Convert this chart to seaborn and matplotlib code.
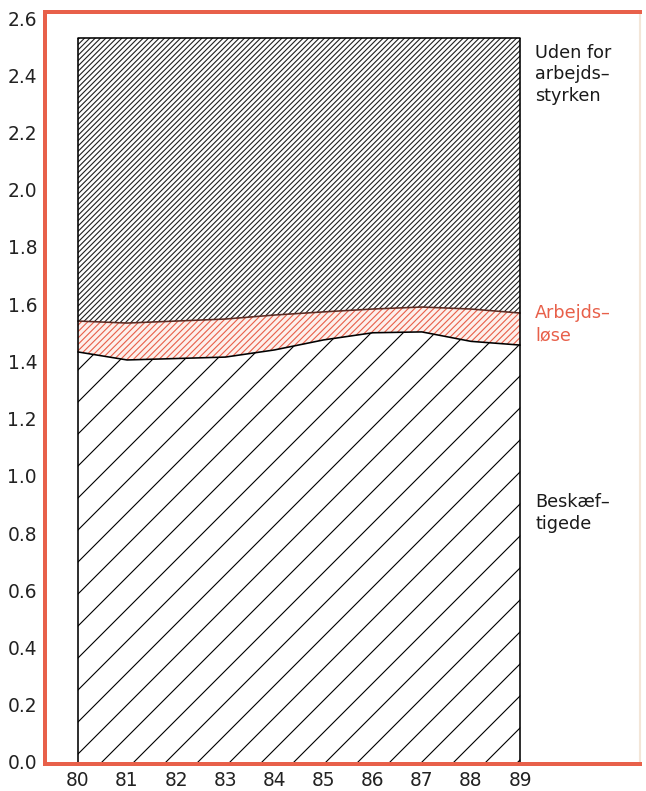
import numpy as np
import pandas as pd
import matplotlib.pyplot as plt
import seaborn as sns

# data (mio. personer)
years = [80, 81, 82, 83, 84, 85, 86, 87, 88, 89]
beskaeftigede = [1.433, 1.405, 1.410, 1.415, 1.440, 1.475, 1.500, 1.503, 1.470, 1.457]
arbejdsloese = [0.108, 0.129, 0.131, 0.133, 0.122, 0.098, 0.083, 0.087, 0.113, 0.112]
uden_for = [0.989, 0.996, 0.989, 0.982, 0.968, 0.957, 0.947, 0.940, 0.947, 0.961]
y_ticks = [0.0, 0.2, 0.4, 0.6, 0.8, 1.0, 1.2, 1.4, 1.6, 1.8, 2.0, 2.2, 2.4, 2.6]

RED = '#e8604a'

df = pd.DataFrame({'year': years, 'besk': beskaeftigede,
                   'ledig': arbejdsloese, 'uden': uden_for})
df['c1'] = df['besk']
df['c2'] = df['c1'] + df['ledig']
df['c3'] = df['c2'] + df['uden']

sns.set_style('white')
plt.rcParams['font.family'] = ['DejaVu Sans']
plt.rcParams['hatch.linewidth'] = 0.42

DPI = 192
fig = plt.figure(figsize=(646 / DPI, 791 / DPI), dpi=DPI)
ax = fig.add_axes([45 / 646, 27 / 791, 595 / 646, 752 / 791])

# stacked areas with hatching
ax.fill_between(df['year'], 0, df['c1'], facecolor='white', edgecolor='black',
                hatch='//', linewidth=0, zorder=1)
ax.fill_between(df['year'], df['c1'], df['c2'], facecolor='#fdf0ec', edgecolor=RED,
                hatch='/' * 10, linewidth=0, zorder=1)
ax.fill_between(df['year'], df['c2'], df['c3'], facecolor='white', edgecolor='#222222',
                hatch='/' * 12, linewidth=0, zorder=1)

# boundaries
sns.lineplot(data=df, x='year', y='c1', color='black', linewidth=0.6, ax=ax, zorder=3)
sns.lineplot(data=df, x='year', y='c2', color='#5a2a22', linewidth=0.6, ax=ax, zorder=3)
sns.lineplot(data=df, x='year', y='c3', color='black', linewidth=0.6, ax=ax, zorder=3)
ax.vlines([df['year'].iloc[0], df['year'].iloc[-1]], 0,
          [df['c3'].iloc[0], df['c3'].iloc[-1]], color='black', linewidth=0.6, zorder=3)

ax.set_xlim(79.33, 91.44)
ax.set_ylim(-0.007, 2.621)
ax.set_xticks(years)
ax.set_xticklabels([str(y) for y in years])
ax.set_yticks(y_ticks)
ax.set_yticklabels([f'{v:.1f}' for v in y_ticks])
ax.tick_params(axis='both', length=0, labelsize=7, colors='#222222')
ax.tick_params(axis='y', pad=3)
ax.tick_params(axis='x', pad=2.5)
ax.set_xlabel('')
ax.set_ylabel('')

for side in ['left', 'top', 'bottom']:
    ax.spines[side].set_color(RED)
    ax.spines[side].set_linewidth(1.5)
    ax.spines[side].set_zorder(5)
ax.spines['right'].set_color('#f3e6d8')
ax.spines['right'].set_linewidth(0.8)

# side labels
xl = years[-1] + 0.31
ax.text(xl, df['c3'].iloc[-1] - 0.02, 'Uden for\narbejds–\nstyrken', fontsize=6.6,
        color='#1a1a1a', va='top', ha='left', linespacing=1.25)
ax.text(xl, df['c2'].iloc[-1] + 0.03, 'Arbejds–\nløse', fontsize=6.6,
        color=RED, va='top', ha='left', linespacing=1.25)
ax.text(xl, 0.94, 'Beskæf–\ntigede', fontsize=6.6,
        color='#1a1a1a', va='top', ha='left', linespacing=1.25)

fig.savefig('out.png', dpi=DPI)
